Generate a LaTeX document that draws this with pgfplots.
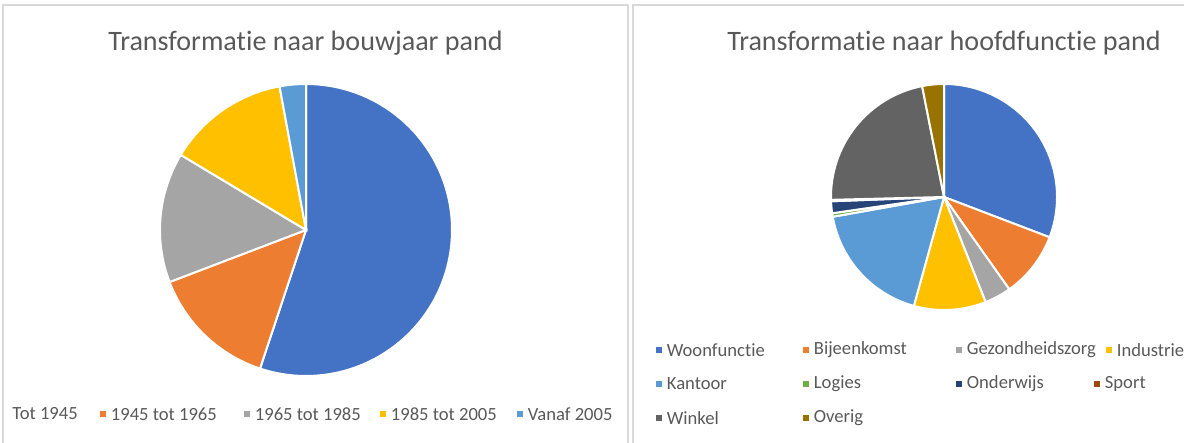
\documentclass[border=0pt]{standalone}
\usepackage{pgfplots}
\pgfplotsset{compat=1.18}
\usepackage{fontspec}
\setmainfont{Carlito}[Ligatures=NoCommon]
\definecolor{cBlue}{HTML}{4472C4}
\definecolor{cOrange}{HTML}{ED7D31}
\definecolor{cGray}{HTML}{A5A5A5}
\definecolor{cYellow}{HTML}{FFC000}
\definecolor{cLBlue}{HTML}{5B9BD5}
\definecolor{cGreen}{HTML}{70AD47}
\definecolor{cNavy}{HTML}{264478}
\definecolor{cRed}{HTML}{9E480E}
\definecolor{cDGray}{HTML}{636363}
\definecolor{cBrown}{HTML}{997300}
\definecolor{txt}{HTML}{595959}
\definecolor{frame}{HTML}{D9D9D9}
% slice: cx, cy, r, start%, end%, colour
\newcommand{\slice}[6]{%
  \addplot[fill=#6, draw=white, line width=1pt, domain={#4*3.6}:{#5*3.6}, samples=90]
    ({#1+#3*sin(x)},{#2+#3*cos(x)}) -- (axis cs:#1,#2) -- cycle;
}
\newcommand{\lgd}[4]{% x(marker), y, colour, text
  \node[fill=#3, minimum size=3.4pt, inner sep=0pt] at (axis cs:#1,#2) {};
  \node[anchor=west, inner sep=0pt, text=txt, font=\fontsize{9.3}{11}\selectfont] at (axis cs:#1+7.5,#2) {#4};
}
\begin{document}
\begin{tikzpicture}
\begin{axis}[name=ax, width=592pt, height=221.5pt, scale only axis,
  xmin=0, xmax=1184, ymin=0, ymax=443, hide axis, clip=false]
% frames
\draw[frame, line width=0.8pt] (axis cs:3,0) -- (axis cs:3,438) -- (axis cs:628,438) -- (axis cs:628,0);
\draw[frame, line width=0.8pt] (axis cs:633,0) -- (axis cs:633,438) -- (axis cs:1184,438);
% titles
\node[text=txt, font=\fontsize{14.05}{16}\selectfont] at (axis cs:305.5,400) {Transformatie naar bouwjaar pand};
\node[text=txt, font=\fontsize{14.05}{16}\selectfont] at (axis cs:944,400) {Transformatie naar hoofdfunctie pand};
% left pie: Tot 1945 55.1, 1945-1965 14.1, 1965-1985 14.4, 1985-2005 13.5, Vanaf 2005 2.9
\slice{306}{213}{146}{0}{55.1}{cBlue}
\slice{306}{213}{146}{55.1}{69.2}{cOrange}
\slice{306}{213}{146}{69.2}{83.6}{cGray}
\slice{306}{213}{146}{83.6}{97.1}{cYellow}
\slice{306}{213}{146}{97.1}{100}{cLBlue}
% right pie: 30.8, 9.4, 3.8, 10.3, 17.9, 0.5, 1.7, 0.2, 22.3, 3.1
\slice{944}{246}{113}{0}{30.8}{cBlue}
\slice{944}{246}{113}{30.8}{40.2}{cOrange}
\slice{944}{246}{113}{40.2}{44.0}{cGray}
\slice{944}{246}{113}{44.0}{54.3}{cYellow}
\slice{944}{246}{113}{54.3}{72.2}{cLBlue}
\slice{944}{246}{113}{72.2}{72.7}{cGreen}
\slice{944}{246}{113}{72.7}{74.4}{cNavy}
\slice{944}{246}{113}{74.4}{74.6}{cRed}
\slice{944}{246}{113}{74.6}{96.9}{cDGray}
\slice{944}{246}{113}{96.9}{100}{cBrown}
% left legend
\node[anchor=west, inner sep=0pt, text=txt, font=\fontsize{9.3}{11}\selectfont] at (axis cs:12,29) {Tot 1945};
\lgd{103}{29}{cOrange}{1945 tot 1965}
\lgd{247}{29}{cGray}{1965 tot 1985}
\lgd{383}{29}{cYellow}{1985 tot 2005}
\lgd{520}{29}{cLBlue}{Vanaf 2005}
% right legend
\lgd{659}{93}{cBlue}{Woonfunctie}
\lgd{806}{93}{cOrange}{Bijeenkomst}
\lgd{959}{93}{cGray}{Gezondheidszorg}
\lgd{1109}{93}{cYellow}{Industrie}
\lgd{659}{59}{cLBlue}{Kantoor}
\lgd{806}{59}{cGreen}{Logies}
\lgd{959}{59}{cNavy}{Onderwijs}
\lgd{1097}{59}{cRed}{Sport}
\lgd{659}{25}{cDGray}{Winkel}
\lgd{806}{25}{cBrown}{Overig}
\end{axis}
\pgfresetboundingbox
\path (ax.south west) rectangle (ax.north east);
\end{tikzpicture}
\end{document}
